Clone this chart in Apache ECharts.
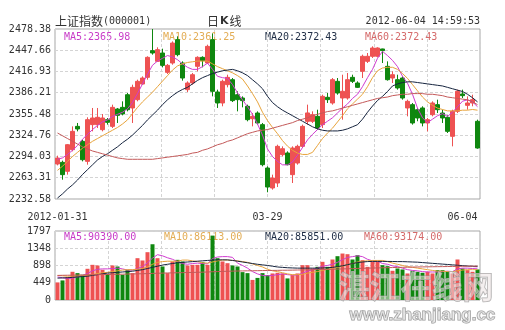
<!DOCTYPE html>
<html><head><meta charset="utf-8">
<script src="https://cdn.jsdelivr.net/npm/echarts@6/dist/echarts.min.js"></script>
<style>html,body{margin:0;padding:0;background:#fff}#c{width:505px;height:330px}</style>
</head><body><div id="c"></div>
<script>
const dates = ['2012-01-31',
'2012-02-01','2012-02-02','2012-02-03','2012-02-06','2012-02-07','2012-02-08','2012-02-09','2012-02-10','2012-02-13','2012-02-14','2012-02-15','2012-02-16','2012-02-17','2012-02-20','2012-02-21','2012-02-22','2012-02-23','2012-02-24','2012-02-27','2012-02-28','2012-02-29',
'2012-03-01','2012-03-02','2012-03-05','2012-03-06','2012-03-07','2012-03-08','2012-03-09','2012-03-12','2012-03-13','2012-03-14','2012-03-15','2012-03-16','2012-03-19','2012-03-20','2012-03-21','2012-03-22','2012-03-23','2012-03-26','2012-03-27','2012-03-28','2012-03-29','2012-03-30',
'2012-04-05','2012-04-06','2012-04-09','2012-04-10','2012-04-11','2012-04-12','2012-04-13','2012-04-16','2012-04-17','2012-04-18','2012-04-19','2012-04-20','2012-04-23','2012-04-24','2012-04-25','2012-04-26','2012-04-27',
'2012-05-02','2012-05-03','2012-05-04','2012-05-07','2012-05-08','2012-05-09','2012-05-10','2012-05-11','2012-05-14','2012-05-15','2012-05-16','2012-05-17','2012-05-18','2012-05-21','2012-05-22','2012-05-23','2012-05-24','2012-05-25','2012-05-28','2012-05-29','2012-05-30','2012-05-31',
'2012-06-01','2012-06-04'];

const opens = [2283.2,2285.6,2272.6,2303.9,2337.6,2315.9,2287.0,2340.1,2340.1,2332.8,2347.3,2337.6,2362.7,2365.1,2383.4,2364.2,2376.2,2398.8,2408.5,2447.1,2431.6,2443.7,2415.7,2429.2,2463.0,2429.2,2390.7,2400.3,2424.4,2437.4,2429.2,2463.0,2387.3,2371.4,2397.9,2405.1,2383.4,2378.6,2366.6,2348.7,2356.9,2340.1,2277.4,2248.5,2255.7,2296.7,2299.1,2267.8,2284.6,2308.7,2344.9,2344.9,2352.1,2340.1,2379.6,2371.4,2402.7,2378.6,2378.6,2408.5,2400.3,2417.2,2431.6,2438.9,2438.9,2449.5,2424.4,2407.5,2405.1,2407.5,2364.2,2369.0,2361.7,2364.2,2342.5,2354.5,2369.0,2356.9,2350.7,2323.2,2359.3,2384.4,2368.0,2371.4,2344.9];
const closes = [2291.8,2267.8,2311.1,2330.4,2333.8,2289.4,2347.3,2349.7,2350.7,2349.7,2343.4,2365.1,2353.5,2355.5,2361.7,2394.0,2402.7,2407.5,2437.4,2443.7,2448.5,2425.8,2425.8,2458.1,2441.3,2407.5,2400.3,2412.3,2437.4,2432.6,2453.3,2388.3,2371.4,2402.7,2408.5,2374.8,2376.2,2374.8,2347.3,2352.1,2342.5,2282.2,2249.9,2262.9,2308.7,2305.3,2282.2,2306.3,2308.7,2337.6,2357.0,2354.5,2335.2,2381.0,2376.2,2405.1,2385.8,2388.3,2405.1,2402.7,2394.0,2438.9,2438.9,2450.9,2450.9,2447.1,2405.1,2412.3,2393.1,2378.6,2373.8,2342.5,2349.7,2342.5,2347.3,2371.4,2361.7,2349.7,2330.4,2359.3,2388.3,2382.0,2371.4,2376.2,2306.3];
const lows = [2281.2,2260.5,2267.8,2301.5,2330.4,2287.0,2282.2,2330.4,2335.2,2330.4,2340.1,2335.2,2342.5,2353.5,2359.3,2342.5,2373.8,2397.9,2405.1,2441.3,2430.7,2422.9,2413.3,2426.8,2438.9,2403.7,2387.3,2397.9,2417.2,2423.0,2427.8,2381.0,2364.2,2366.6,2394.0,2372.8,2359.3,2365.1,2344.9,2337.6,2340.1,2279.8,2242.3,2246.1,2249.9,2294.3,2281.3,2255.7,2282.2,2306.3,2340.1,2342.5,2332.8,2335.2,2371.4,2369.0,2383.4,2347.3,2376.2,2400.3,2393.1,2407.5,2429.2,2436.5,2437.4,2429.2,2403.7,2400.3,2390.7,2376.2,2352.1,2340.1,2345.0,2337.6,2330.4,2352.1,2356.9,2342.5,2328.0,2308.7,2356.9,2378.6,2361.7,2366.6,2305.3];
const highs = [2295.2,2288.0,2312.1,2337.6,2342.5,2318.4,2350.7,2364.2,2364.2,2355.5,2349.7,2369.0,2364.2,2373.8,2385.8,2397.9,2405.1,2409.9,2438.9,2478.38,2451.9,2449.9,2427.8,2460.5,2467.8,2431.6,2402.7,2414.8,2438.9,2438.9,2455.7,2472.0,2390.7,2405.1,2412.3,2407.5,2388.3,2381.0,2369.0,2356.9,2359.3,2342.5,2279.8,2267.8,2311.1,2308.7,2301.5,2308.7,2311.1,2340.1,2369.0,2359.3,2361.7,2383.4,2385.8,2407.5,2407.5,2412.3,2414.8,2412.3,2402.7,2441.3,2443.7,2453.3,2451.9,2449.9,2431.6,2417.2,2412.3,2409.9,2376.2,2371.4,2364.0,2366.6,2349.7,2373.8,2376.2,2361.7,2353.5,2361.7,2390.7,2390.7,2381.0,2383.4,2347.3];

const ma5 = [2290,2292,2297,2303,2310,2319,2326,2333,2339,2344,2347,2352,2355,2358,2363,2372,2385,2399,2413,2426,2432,2436,2440,2438,2434,2428,2423,2420,2420,2424,2429,2420,2410,2408,2407,2398,2386,2376,2366,2355,2341,2325,2305,2294,2287,2282,2282,2286,2296,2307,2318,2326,2333,2340,2345,2350,2357,2364,2370,2378,2384,2395,2408,2420,2436,2446,2440,2433,2424,2410,2400,2384,2364,2350,2343,2348,2353,2356,2352,2358,2366,2374,2376,2373,2366];
const ma10 = [2274,2280,2287,2294,2300,2306,2311,2316,2320,2324,2328,2332,2336,2341,2347,2356,2365,2373,2380,2387,2395,2403,2411,2419,2425,2428,2430,2431,2432,2432,2432,2428,2424,2421,2418,2415,2411,2406,2396,2385,2373,2358,2346,2336,2327,2317,2309,2303,2299,2297,2297,2300,2310,2320,2328,2335,2344,2353,2363,2370,2377,2384,2395,2408,2418,2422,2423,2423,2420,2414,2407,2398,2389,2380,2373,2368,2364,2362,2360,2360,2360,2361,2361,2362,2361];
const ma20 = [2234,2240,2247,2253,2260,2268,2275,2282,2289,2294,2298,2303,2308,2314,2319,2325,2332,2339,2347,2354,2361,2369,2376,2382,2387,2391,2394,2399,2404,2408,2411,2414,2416,2418,2419,2420,2418,2415,2411,2405,2399,2392,2381,2372,2366,2361,2357,2353,2349,2345,2341,2337,2334,2332,2331,2331,2331,2332,2334,2337,2340,2348,2358,2367,2375,2381,2388,2396,2399,2401,2402,2402,2401,2400,2399,2398,2397,2396,2394,2392,2390,2388,2384,2379,2373];
const ma60 = [2328,2324,2320,2316,2312,2308,2305,2302,2300,2298,2296,2294,2292,2291,2290,2290,2290,2290,2290,2290,2291,2292,2293,2294,2295,2296,2297,2299,2300,2303,2305,2308,2311,2313,2316,2318,2321,2324,2327,2329,2331,2332,2333,2335,2337,2339,2341,2343,2346,2348,2350,2353,2355,2357,2359,2360,2362,2364,2366,2368,2370,2372,2374,2376,2378,2379,2380,2382,2383,2384,2384,2385,2385,2385,2384,2384,2383,2382,2380,2379,2378,2377,2376,2373,2369];

const volumes = [458,510,600,735,700,657,813,916,899,787,674,899,873,657,787,700,1089,1029,1245,1452,1089,873,700,1003,1046,1003,899,916,916,985,916,1677,1089,1003,959,899,873,726,700,523,575,700,648,691,709,691,562,648,691,907,907,821,864,994,864,1055,1141,1210,1193,1055,1167,1037,864,994,994,907,881,761,821,795,691,761,735,709,735,691,778,778,735,691,1055,821,778,735,795];
const volMa5 = [600,580,560,570,600,640,690,760,800,810,810,820,830,810,780,780,820,870,970,1090,1180,1150,1100,1060,1000,950,930,950,960,950,940,1080,1120,1130,1130,1110,960,900,830,740,680,640,630,640,660,680,660,650,650,700,750,790,830,880,900,930,980,1050,1110,1130,1150,1130,1060,1020,1010,950,930,890,870,830,790,770,760,740,730,730,730,740,750,740,810,830,830,820,830];
const volMa10 = [640,630,620,620,625,630,640,660,690,710,720,740,760,780,790,790,800,820,860,930,980,1000,1010,1010,1010,1040,1040,1020,1000,970,960,990,1020,1040,1040,1030,1020,1000,980,940,900,860,800,760,740,710,680,660,660,670,700,720,740,770,800,820,850,880,920,950,990,1010,1020,1030,1030,1030,1000,960,930,900,870,850,830,810,790,770,750,750,740,740,760,780,790,790,790];
const volMa20 = [570,575,580,590,600,610,620,640,660,680,700,710,720,730,740,750,770,790,820,850,880,910,930,950,970,980,990,1000,1010,1020,1030,1040,1045,1046,1045,1030,1010,990,970,950,930,915,900,880,860,850,840,835,830,830,830,830,830,835,840,850,870,890,920,950,975,990,1000,1005,1005,1005,1005,1003,1000,1000,995,990,985,975,965,955,945,935,925,915,905,895,885,878,873];
const volMa60 = [640,643,645,647,651,652,656,658,661,662,666,668,671,672,676,679,682,684,689,693,697,700,704,706,710,712,716,718,722,725,729,736,740,745,748,752,755,757,760,762,764,766,768,770,772,775,776,778,781,783,786,789,792,795,798,802,805,809,813,817,822,825,830,833,836,839,843,845,848,851,854,857,860,862,864,866,868,870,872,874,876,878,880,882,884];

const priceTicks = [2232.58,2263.31,2294.03,2324.76,2355.48,2386.21,2416.93,2447.66,2478.38];
const volTicks = [0,449,898,1348,1797];
const mainLegend = ['MA5:2365.98','MA10:2361.25','MA20:2372.43','MA60:2372.43'];
const volLegend = ['MA5:90390.00','MA10:86113.00','MA20:85851.00','MA60:93174.00'];
const titleName = '上证指数';
const titleCode = '(000001)';
const stampText = '2012-06-04 14:59:53';

const RED = '#ee5252', GREEN = '#0f870f';
const C5 = '#d03cd0', C10 = '#e8a43c', C20 = '#17253f', C60 = '#c45a5a';
const TXT5 = '#c83cc8', TXT10 = '#e3ad55', TXT20 = '#1f2d45', TXT60 = '#d56a6a';
const MONO = 'DejaVu Sans Mono';
const CJK = 'Noto Sans CJK SC';

const candle = dates.map((d, i) => [opens[i], closes[i], lows[i], highs[i]]);
const volData = volumes.map((v, i) => ({value: v, itemStyle: {color: closes[i] >= opens[i] ? RED : GREEN}}));

const chart = echarts.init(document.getElementById('c'), null, {renderer: 'canvas'});
const dashed = {show: true, lineStyle: {color: '#d4d4d4', type: [3, 2], width: 1}};
const lineS = (name, data, color, xi, yi) => ({name, type: 'line', data, xAxisIndex: xi, yAxisIndex: yi, showSymbol: false, symbol: 'none', lineStyle: {color, width: 1}, itemStyle: {color}, silent: true, z: 5, animation: false});

chart.setOption({
  animation: false,
  backgroundColor: '#fff',
  grid: [
    {left: 55, top: 29, width: 425, height: 170, show: true, borderColor: '#a6a6a6', borderWidth: 1},
    {left: 55, top: 231, width: 425, height: 69, show: true, borderColor: '#a6a6a6', borderWidth: 1}
  ],
  xAxis: [
    {type: 'category', gridIndex: 0, data: dates, boundaryGap: true,
     axisLine: {show: false}, axisTick: {show: false}, splitLine: {show: false},
     axisLabel: {interval: 41, margin: 13, fontFamily: MONO, fontSize: 10, color: '#333',
       alignMaxLabel: 'right',
       formatter: (v, i) => i === 0 ? v : v.slice(5)}},
    {type: 'category', gridIndex: 1, data: dates, boundaryGap: true,
     axisLine: {show: false}, axisTick: {show: false}, axisLabel: {show: false}, splitLine: {show: false}},
    {type: 'value', gridIndex: 0, min: 0, max: 8, interval: 1, axisLine: {show: false}, axisTick: {show: false}, axisLabel: {show: false}, splitLine: dashed},
    {type: 'value', gridIndex: 1, min: 0, max: 8, interval: 1, axisLine: {show: false}, axisTick: {show: false}, axisLabel: {show: false}, splitLine: dashed}
  ],
  yAxis: [
    {type: 'value', gridIndex: 0, min: priceTicks[0], max: priceTicks[priceTicks.length - 1],
     axisLine: {show: false}, axisTick: {show: false, customValues: priceTicks},
     axisLabel: {customValues: priceTicks, margin: 4, fontFamily: MONO, fontSize: 10, color: '#333', formatter: v => v.toFixed(2)},
     splitLine: dashed},
    {type: 'value', gridIndex: 1, min: 0, max: volTicks[volTicks.length - 1],
     axisLine: {show: false}, axisTick: {show: false, customValues: volTicks},
     axisLabel: {customValues: volTicks, margin: 4, fontFamily: MONO, fontSize: 10, color: '#333', formatter: v => String(Math.round(v))},
     splitLine: dashed}
  ],
  series: [
    {type: 'candlestick', xAxisIndex: 0, yAxisIndex: 0, data: candle, barWidth: 4, silent: true, z: 3,
     itemStyle: {color: RED, color0: GREEN, borderColor: RED, borderColor0: GREEN, borderWidth: 1}},
    lineS('MA5', ma5, C5, 0, 0), lineS('MA10', ma10, C10, 0, 0), lineS('MA20', ma20, C20, 0, 0), lineS('MA60', ma60, C60, 0, 0),
    {type: 'bar', xAxisIndex: 1, yAxisIndex: 1, data: volData, barWidth: 4, silent: true, z: 3},
    lineS('VMA5', volMa5, C5, 1, 1), lineS('VMA10', volMa10, C10, 1, 1), lineS('VMA20', volMa20, C20, 1, 1), lineS('VMA60', volMa60, C60, 1, 1)
  ],
  graphic: [
    {type: 'text', left: 55, top: 15, silent: true, style: {text: '{a|' + titleName + '}{b|' + titleCode + '}',
      rich: {a: {fontFamily: CJK, fontSize: 12, fill: '#333'}, b: {fontFamily: MONO, fontSize: 10, fill: '#333'}}}},
    {type: 'text', left: 207, top: 15, silent: true, style: {text: '{a|日}{k|K}{a|线}',
      rich: {a: {fontFamily: CJK, fontSize: 12, fill: '#333'}, k: {fontFamily: 'DejaVu Sans', fontWeight: 'bold', fontSize: 11, fill: '#333', padding: [0, 1, 0, 1]}}}},
    {type: 'text', right: 25, top: 16, silent: true, style: {text: stampText, fontFamily: MONO, fontSize: 10, fill: '#333'}},
    {type: 'text', left: 64, top: 32, silent: true, style: {text: mainLegend[0], fontFamily: MONO, fontSize: 10, fill: TXT5}},
    {type: 'text', left: 163, top: 32, silent: true, style: {text: mainLegend[1], fontFamily: MONO, fontSize: 10, fill: TXT10}},
    {type: 'text', left: 265, top: 32, silent: true, style: {text: mainLegend[2], fontFamily: MONO, fontSize: 10, fill: TXT20}},
    {type: 'text', left: 365, top: 32, silent: true, style: {text: mainLegend[3], fontFamily: MONO, fontSize: 10, fill: TXT60}},
    {type: 'text', left: 64, top: 232, silent: true, style: {text: volLegend[0], fontFamily: MONO, fontSize: 10, fill: TXT5}},
    {type: 'text', left: 164, top: 232, silent: true, style: {text: volLegend[1], fontFamily: MONO, fontSize: 10, fill: TXT10}},
    {type: 'text', left: 265, top: 232, silent: true, style: {text: volLegend[2], fontFamily: MONO, fontSize: 10, fill: TXT20}},
    {type: 'text', left: 364, top: 232, silent: true, style: {text: volLegend[3], fontFamily: MONO, fontSize: 10, fill: TXT60}},
    {type: 'text', left: 338, top: 270, silent: true, z: 100, style: {text: '湛江在线网', fontFamily: CJK, fontWeight: 'bold', fontSize: 31, fill: 'rgba(235,225,225,0.55)', stroke: 'rgba(150,150,150,0.8)', lineWidth: 1}},
    {type: 'text', left: 349, top: 306, silent: true, z: 100, style: {text: 'www.zhanjiang.cc', fontFamily: 'Liberation Sans', fontWeight: 'bold', fontSize: 17, fill: 'rgba(225,225,225,0.6)', stroke: 'rgba(140,140,140,0.9)', lineWidth: 1}}
  ]
});
</script></body></html>
